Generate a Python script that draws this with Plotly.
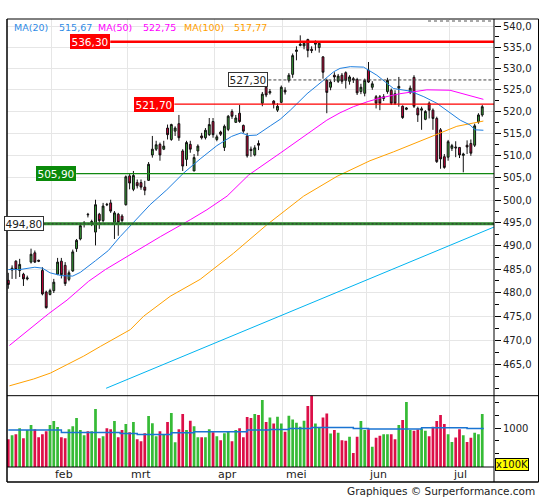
import math
import plotly.graph_objects as go

# daily OHLC, mid-jan .. mid-jul (trading days only)
opens = [482.6, 484.8, 486.7, 484.7, 483.9, 482.9, 486.5, 488.5, 486.9, 484.7,
         480.1, 479.6, 480.4, 483.9, 486.7, 485.8, 482.8, 484.6, 489.4, 491.5,
         494.9, 496.9, 495.0, 493.0, 496.9, 495.5, 499.1, 499.4, 495.1, 496.9,
         496.5, 499.0, 505.4, 502.4, 503.9, 503.9, 502.9, 504.4, 510.1, 511.4,
         512.5, 511.4, 516.2, 513.6, 515.5, 517.2, 511.0, 509.1, 512.5, 506.5,
         511.0, 514.4, 514.0, 514.7, 517.7, 513.6, 515.3, 511.8, 515.9, 520.0,
         517.5, 519.6, 516.8, 514.4, 511.4, 510.1, 512.7, 521.9, 525.6, 524.3,
         522.4, 520.3, 522.1, 524.9, 527.2, 528.6, 534.0, 535.4, 535.3, 536.8,
         534.5, 535.7, 534.9, 532.7, 527.2, 525.6, 528.4, 527.0, 528.4, 529.0,
         527.0, 527.6, 527.4, 524.6, 524.2, 529.6, 525.6, 523.4, 523.4, 523.0,
         524.6, 524.9, 524.1, 525.4, 521.2, 520.5, 524.4, 527.9, 520.7, 520.3,
         518.2, 521.9, 520.3, 518.4, 515.8, 509.7, 509.6, 511.6, 511.9, 511.8,
         510.0, 512.3, 512.7, 512.3, 517.6, 519.2]
highs = [484.2, 485.8, 486.9, 487.2, 484.2, 483.6, 489.4, 489.0, 487.0, 485.4,
         480.4, 480.8, 482.9, 487.4, 487.4, 486.5, 484.7, 489.2, 491.5, 494.7,
         495.4, 497.2, 495.7, 500.1, 497.2, 499.4, 499.4, 500.1, 497.6, 497.2,
         496.9, 505.5, 505.8, 506.5, 504.6, 504.6, 504.3, 508.5, 514.4, 513.3,
         512.9, 513.3, 517.0, 517.2, 516.6, 519.2, 511.4, 513.3, 513.3, 510.3,
         512.5, 515.1, 516.2, 518.5, 518.5, 514.7, 515.6, 517.0, 519.2, 520.5,
         519.2, 521.5, 517.0, 515.1, 512.0, 512.3, 513.4, 524.5, 526.0, 525.2,
         522.6, 521.9, 526.0, 525.6, 528.9, 533.5, 535.2, 537.8, 536.2, 537.0,
         535.2, 536.6, 536.0, 532.9, 527.6, 527.2, 529.1, 528.7, 528.9, 529.3,
         528.4, 528.0, 527.8, 526.4, 527.6, 531.5, 527.0, 523.8, 523.8, 524.0,
         527.8, 525.3, 524.9, 528.0, 521.4, 521.0, 526.0, 528.4, 521.1, 521.1,
         520.3, 522.3, 520.7, 518.8, 516.2, 510.3, 513.5, 512.6, 513.2, 511.8,
         510.6, 513.4, 513.6, 517.2, 519.6, 521.5]
lows = [480.8, 482.9, 482.9, 483.3, 481.4, 482.6, 486.2, 486.3, 486.5, 479.4,
        476.6, 479.4, 479.9, 483.7, 483.0, 481.4, 482.4, 484.4, 488.7, 491.2,
        494.0, 496.2, 494.3, 490.1, 493.7, 495.1, 498.7, 497.2, 491.5, 492.2,
        494.7, 498.8, 502.4, 502.0, 502.6, 502.3, 501.1, 504.3, 509.5, 511.0,
        508.8, 511.2, 513.6, 513.3, 514.4, 513.3, 506.5, 507.6, 510.6, 506.5,
        509.9, 513.6, 513.6, 514.4, 514.0, 513.2, 514.4, 511.0, 515.5, 518.3,
        517.4, 517.4, 515.1, 509.5, 509.7, 509.8, 511.2, 521.2, 523.3, 523.9,
        520.7, 519.9, 521.9, 523.9, 526.7, 527.8, 531.9, 535.2, 534.5, 532.6,
        533.6, 534.2, 533.7, 527.6, 519.6, 524.9, 526.8, 526.6, 526.4, 525.3,
        526.2, 526.6, 523.8, 524.0, 523.5, 526.6, 525.0, 520.7, 520.3, 522.4,
        524.1, 521.5, 521.5, 521.1, 518.3, 520.3, 524.0, 520.8, 517.6, 515.8,
        518.0, 518.4, 515.8, 508.3, 507.0, 507.0, 508.8, 511.0, 509.6, 509.4,
        506.2, 510.3, 509.9, 511.9, 517.2, 518.8]
closes = [481.7, 485.2, 484.9, 486.0, 482.9, 483.1, 488.2, 486.5, 486.7, 479.7,
          476.8, 480.4, 482.2, 486.5, 483.8, 481.9, 484.2, 488.7, 491.2, 494.4,
          495.0, 496.8, 495.3, 499.0, 495.5, 498.7, 499.0, 497.6, 497.2, 495.1,
          495.5, 505.2, 503.8, 505.5, 503.2, 502.9, 502.2, 508.0, 511.4, 512.4,
          510.1, 512.1, 514.7, 517.0, 516.2, 514.0, 507.6, 512.9, 511.4, 509.5,
          512.1, 514.0, 515.7, 517.0, 514.7, 514.2, 514.8, 516.6, 518.9, 518.9,
          518.5, 517.7, 515.5, 509.9, 511.1, 511.7, 512.3, 524.0, 523.8, 524.6,
          521.7, 521.2, 525.6, 524.5, 528.4, 533.0, 534.3, 535.7, 535.9, 534.2,
          534.2, 536.0, 535.9, 529.1, 524.4, 526.8, 528.0, 528.2, 527.0, 527.2,
          528.0, 527.3, 524.3, 525.6, 527.2, 526.8, 526.4, 521.9, 521.9, 523.4,
          527.2, 521.9, 521.9, 525.8, 518.6, 520.8, 525.4, 521.2, 519.2, 520.6,
          520.0, 520.3, 518.4, 508.6, 509.2, 507.3, 513.1, 512.2, 511.7, 510.1,
          510.3, 511.9, 510.5, 516.7, 519.2, 521.1]
# volume, x100K
volume = [784, 862, 882, 1000, 803, 961, 1059, 980, 823, 882,
          941, 1059, 1138, 1020, 823, 803, 980, 1039, 1197, 961,
          862, 941, 941, 1374, 803, 843, 1000, 980, 1138, 823,
          961, 1079, 921, 1118, 784, 744, 902, 1236, 1098, 843,
          941, 882, 1118, 1295, 725, 980, 1276, 961, 1144, 1039,
          823, 823, 823, 980, 921, 843, 764, 902, 941, 744,
          961, 1000, 823, 1217, 1197, 1276, 1256, 1551, 1118, 1210,
          1092, 1223, 1092, 928, 1243, 1171, 1105, 1026, 1144, 1433,
          1660, 1092, 1013, 1210, 1289, 895, 961, 908, 764, 751,
          829, 514, 829, 1138, 961, 980, 633, 810, 849, 882,
          882, 882, 784, 1059, 1158, 1512, 961, 948, 974, 994,
          948, 843, 1026, 1138, 1256, 1079, 882, 730, 817, 980,
          862, 730, 809, 907, 882, 1276]

# moving averages (bar index, value)
ma20_idx = [0, 3, 7, 9, 11, 14, 17, 19, 23, 26.4, 29.5, 33, 37.4, 41.8, 46.2, 50.6,
            55, 58.9, 61.4, 63.4, 65.5, 69.1, 71.7, 74.4, 78.8, 83.1, 85.8, 87.5,
            90.2, 93.7, 97.2, 101.6, 106, 109.6, 113, 116.5, 119.2, 121.8, 123.1, 125.3]
ma20_val = [484.9, 484.9, 485.4, 485.2, 484.2, 483.6, 483.5, 484.3, 486.8, 489.0,
            492.0, 495.0, 499.0, 502.3, 506.0, 509.2, 512.2, 514.3, 515.1, 514.5,
            514.6, 516.7, 518.2, 520.3, 524.1, 527.2, 529.2, 530.0, 530.4, 530.3,
            528.4, 525.3, 524.7, 523.4, 521.9, 519.7, 518.0, 516.9, 515.8, 515.7]
ma50_idx = [0.3, 6.7, 10.6, 15.5, 21.2, 25.6, 32.2, 40.1, 48, 52.4, 57.7, 63.4, 71.7,
            76.6, 80.5, 84, 87.5, 91, 94.9, 98.1, 103.3, 110.4, 116.5, 120.1, 125.3]
ma50_val = [468.9, 473.0, 475.5, 478.4, 482.4, 484.9, 488.2, 492.0, 495.7, 497.9,
            500.9, 505.6, 510.5, 513.5, 516.0, 518.0, 519.7, 521.1, 522.3, 523.1,
            524.1, 525.0, 524.9, 524.1, 522.8]
ma100_idx = [0.3, 6.7, 11.1, 15.5, 19.9, 24.3, 28.7, 32.2, 35.7, 42.7, 50.6, 59.4,
             68.2, 77.9, 86.7, 95.4, 101.6, 110.4, 118.3, 125.3]
ma100_val = [460.6, 462.0, 463.2, 465.0, 466.7, 468.7, 470.6, 472.2, 475.0, 479.2,
             482.8, 488.4, 494.6, 500.9, 505.3, 508.8, 510.8, 513.9, 516.6, 517.8]
ma_last = {"MA(20)": "515,67", "MA(50)": "522,75", "MA(100)": "517,77"}

# volume average (step line)
vol_ma_idx = [0, 14, 29.5, 34, 43, 49, 63, 69, 74, 80, 91, 95, 109, 121, 125.4]
vol_ma_val = [961, 915, 896, 876, 907, 927, 961, 974, 994, 1014, 994, 985, 1006, 994, 994]

# support / resistance levels: price, start bar, style
levels = [536.30, 527.30, 521.70, 505.90, 494.80]
level_start = [26.9, 68.6, 43.8, 17.9, 9.3]
trend_idx = [25.8, 128.1]
trend_val = [460.1, 494.1]

month_names = ["feb", "mrt", "apr", "mei", "jun", "jul"]
month_first_bar = [11, 31, 54, 72, 94, 116]

y_ticks = list(range(465, 541, 5))
y_minor = [460] + [v + 2.5 for v in range(460, 540, 5)]

GREEN_C = "#3aa63a"
RED_C = "#d2003c"
GREEN_V = "#36bb36"
RED_V = "#dc0f48"
X_RANGE = [-0.34, 128.1]
FONT = "DejaVu Sans"

idx = list(range(len(closes)))
grid_x = [m + 0.45 for m in month_first_bar]

fig = go.Figure()

# trend line and MAs
fig.add_trace(go.Scatter(x=trend_idx, y=trend_val, mode="lines",
                         line=dict(color="#00b4f0", width=1), hoverinfo="skip"))
fig.add_trace(go.Scatter(x=ma100_idx, y=ma100_val, mode="lines",
                         line=dict(color="#ffa000", width=1), hoverinfo="skip"))
fig.add_trace(go.Scatter(x=ma50_idx, y=ma50_val, mode="lines",
                         line=dict(color="#ff00ff", width=1), hoverinfo="skip"))
fig.add_trace(go.Scatter(x=ma20_idx, y=ma20_val, mode="lines",
                         line=dict(color="#1f7fdf", width=1), hoverinfo="skip"))

# level lines
lvl_style = {
    536.30: dict(color="#ff0000", width=2.5),
    527.30: dict(color="#444444", width=1, dash="3px,2px"),
    521.70: dict(color="#ff0000", width=1.2),
    505.90: dict(color="#118811", width=1.4),
    494.80: dict(color="#2f8a2f", width=3),
}
for lv, st in zip(levels, level_start):
    fig.add_trace(go.Scatter(x=[st, X_RANGE[1]], y=[lv, lv], mode="lines",
                             line=lvl_style[lv], hoverinfo="skip"))
fig.add_trace(go.Scatter(x=[level_start[4], X_RANGE[1]], y=[levels[4], levels[4]], mode="lines",
                         line=dict(color="#333333", width=1, dash="2px,2px"), hoverinfo="skip"))

fig.add_trace(go.Candlestick(
    x=idx, open=opens, high=highs, low=lows, close=closes,
    increasing=dict(fillcolor=GREEN_C, line=dict(color="#111111", width=1)),
    decreasing=dict(fillcolor=RED_C, line=dict(color="#111111", width=1)),
    whiskerwidth=0, hoverinfo="skip"))

vol_colors = [GREEN_V if c >= o else RED_V for o, c in zip(opens, closes)]
fig.add_trace(go.Bar(x=idx, y=volume, marker=dict(color=vol_colors, line=dict(width=0)),
                     width=0.72, xaxis="x2", yaxis="y2", hoverinfo="skip"))
fig.add_trace(go.Scatter(x=vol_ma_idx, y=vol_ma_val, mode="lines", line_shape="hv",
                         line=dict(color="#1a74d2", width=1.5), xaxis="x2", yaxis="y2",
                         hoverinfo="skip"))

VSPLIT = 0.1592

def py(p):  # pixel row -> paper y
    return (467 - p) / 448

def px(p):  # pixel column -> paper x
    return (p - 7) / 487

ann = []
# legend row
leg = [("MA(20)", 12.5, "#2f8be6"), (ma_last["MA(20)"], 57.5, "#2f8be6"),
       ("MA(50)", 96.5, "#ff00ff"), (ma_last["MA(50)"], 141.5, "#ff00ff"),
       ("MA(100)", 182.5, "#ffa000"), (ma_last["MA(100)"], 232.5, "#ffa000")]
for txt, x0, col in leg:
    ann.append(dict(text=txt, x=px(x0), y=py(27), xref="paper", yref="paper",
                    xanchor="left", yanchor="middle", showarrow=False, borderpad=0,
                    font=dict(family=FONT, size=9.5, color=col)))

# level labels
lbl_style = {
    536.30: dict(bgcolor="#ff0000", bordercolor="#ff0000", font="white"),
    527.30: dict(bgcolor="white", bordercolor="#333333", font="#222222"),
    521.70: dict(bgcolor="#ff0000", bordercolor="#ff0000", font="white"),
    505.90: dict(bgcolor="#0a8a0a", bordercolor="#0a8a0a", font="white"),
    494.80: dict(bgcolor="white", bordercolor="#333333", font="#222222"),
}
for lv, st in zip(levels, level_start):
    s = lbl_style[lv]
    ann.append(dict(text=f"{lv:.2f}".replace(".", ","), x=st, y=math.log10(lv),
                    xref="x", yref="y", xanchor="right", yanchor="middle", showarrow=False,
                    bgcolor=s["bgcolor"], bordercolor=s["bordercolor"], borderwidth=1,
                    borderpad=0.5, font=dict(family=FONT, size=10.5, color=s["font"])))

# month labels
for name, g in zip(month_names, grid_x):
    ann.append(dict(text=name, x=g, y=py(474.7), xref="x2", yref="paper",
                    xanchor="left", yanchor="middle", xshift=1, showarrow=False,
                    font=dict(family=FONT, size=11, color="#222222")))

ann.append(dict(text="x100K", x=px(494.5), y=py(464), xref="paper", yref="paper",
                xanchor="left", yanchor="middle", showarrow=False, bgcolor="#ffff00",
                bordercolor="#000000", borderwidth=1, borderpad=0,
                font=dict(family=FONT, size=10, color="#111111")))
ann.append(dict(text="Graphiques © Surperformance.com", x=px(537), y=py(491),
                xref="paper", yref="paper", xanchor="right", yanchor="middle",
                showarrow=False, font=dict(family=FONT, size=10.5, color="#222222")))

frame = dict(type="line", xref="paper", yref="paper", line=dict(color="#000000", width=1))
shapes = [
    dict(frame, x0=0, x1=px(538.5), y0=1, y1=1),
    dict(frame, x0=0, x1=px(538.5), y0=py(482), y1=py(482), line=dict(color="#000", width=1.5)),
    dict(frame, x0=0, x1=0, y0=py(482), y1=1, line=dict(color="#000", width=1.5)),
    dict(frame, x0=px(538.5), x1=px(538.5), y0=py(482), y1=1),
    dict(frame, x0=1, x1=1, y0=py(482), y1=1),
    dict(frame, x0=0, x1=px(538.5), y0=VSPLIT, y1=VSPLIT),
    dict(frame, x0=0, x1=1, y0=0, y1=0),
    dict(frame, x0=px(428), x1=1, y0=py(21), y1=py(21),
         line=dict(color="#555555", width=1, dash="dot")),
]

axis_font = dict(family=FONT, size=10, color="#222222")
fig.update_layout(
    width=545, height=500,
    margin=dict(l=7, r=51, t=19, b=33, autoexpand=False),
    paper_bgcolor="white", plot_bgcolor="white",
    showlegend=False,
    font=dict(family=FONT, size=10, color="#222222"),
    xaxis=dict(domain=[0, 1], anchor="y", range=X_RANGE, tickvals=grid_x,
               showticklabels=False, ticks="", showgrid=True, gridcolor="#e6e6e6",
               zeroline=False, showline=False, rangeslider=dict(visible=False)),
    xaxis2=dict(domain=[0, 1], anchor="y2", range=X_RANGE, matches="x", tickvals=grid_x,
                showticklabels=False, ticks="", showgrid=True, gridcolor="#e6e6e6",
                zeroline=False, showline=False),
    yaxis=dict(domain=[VSPLIT, 1], type="log", side="right",
               range=[math.log10(458.6), math.log10(541.7)],
               tickvals=y_ticks, ticktext=[f"{v:.1f}".replace(".", ",") for v in y_ticks],
               ticks="outside", ticklen=6, tickcolor="#000000", tickfont=axis_font,
               minor=dict(tickvals=y_minor, ticks="outside", ticklen=4, tickcolor="#000000",
                          showgrid=False),
               showgrid=True, gridcolor="#e6e6e6", zeroline=False, showline=False),
    yaxis2=dict(domain=[0, VSPLIT], side="right", range=[238, 1636],
                tickvals=[1000], ticktext=["1000"], ticks="outside", ticklen=6,
                tickcolor="#000000", tickfont=axis_font,
                minor=dict(tickvals=[500, 750, 1250, 1500], ticks="outside", ticklen=4,
                           tickcolor="#000000", showgrid=False),
                showgrid=False, zeroline=False, showline=False),
    annotations=ann,
    shapes=shapes,
)

# page body has a default 8px margin; drop it so the figure sits at the window origin
fig.write_html("out.html", config={"displayModeBar": False},
               post_script="document.body.style.margin='0';document.body.style.padding='0';")
